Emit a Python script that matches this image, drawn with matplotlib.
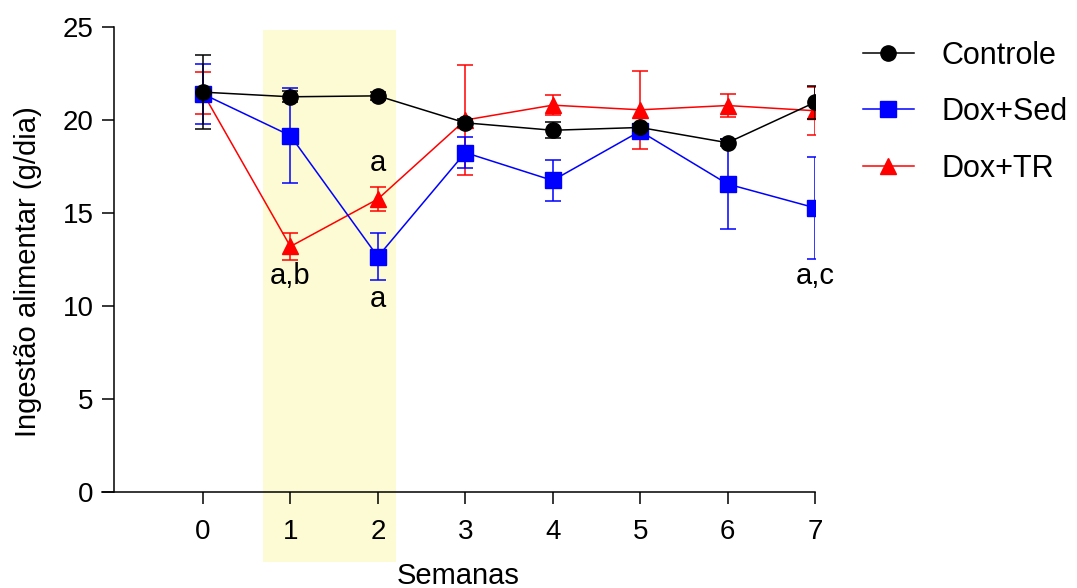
import matplotlib
matplotlib.use("Agg")
import matplotlib.pyplot as plt
from matplotlib.patches import Rectangle

plt.rcParams['font.family'] = ['Liberation Sans', 'DejaVu Sans']

# weeks and group means / errors (g/dia)
semanas = [0, 1, 2, 3, 4, 5, 6, 7]

controle = [21.5, 21.25, 21.3, 19.85, 19.45, 19.6, 18.78, 20.95]
controle_err = [2.0, 0.3, 0.2, 0.2, 0.43, 0.2, 0.2, 0.9]

dox_sed = [21.4, 19.16, 12.65, 18.25, 16.75, 19.4, 16.56, 15.28]
dox_sed_err = [1.6, 2.55, 1.27, 0.85, 1.08, 0.3, 2.44, 2.75]

dox_tr = [21.45, 13.2, 15.75, 20.0, 20.8, 20.55, 20.78, 20.5]
dox_tr_err = [1.15, 0.7, 0.65, 2.95, 0.55, 2.1, 0.6, 1.3]

# significance letters: (week, y, text)
letras = [(1, 11.6, 'a,b'), (2, 17.7, 'a'), (2, 10.4, 'a'), (7, 11.6, 'a,c')]

fig = plt.figure(figsize=(10.77, 5.88), dpi=100)
ax = fig.add_axes([0.0947, 0.1633, 0.662, 0.7907])

# highlighted period (weeks 1-2), runs down past the x axis
ax.add_patch(Rectangle((0.69, -3.76), 1.52, 28.6, facecolor='#fdfbd4',
                       edgecolor='none', zorder=0, clip_on=False))

series = [
    (dox_tr, dox_tr_err, '#ff0000', '^', 'Dox+TR', 3),
    (dox_sed, dox_sed_err, '#0000ff', 's', 'Dox+Sed', 4),
    (controle, controle_err, 'black', 'o', 'Controle', 5),
]
handles = {}
for vals, err, c, m, lab, z in series:
    ax.errorbar(semanas, vals, yerr=err, fmt='none', ecolor=c, elinewidth=1.1,
                capsize=6, capthick=1.1, zorder=z)
    ln, = ax.plot(semanas, vals, color=c, marker=m, markersize=11, lw=1.1,
                  label=lab, zorder=z)
    handles[lab] = ln

for wk, y, txt in letras:
    ax.text(wk, y, txt, ha='center', va='center', fontsize=21)

ax.set_xlim(-1.155, 7.0)
ax.set_ylim(0, 25)
ax.set_xticks(semanas)
ax.set_yticks([0, 5, 10, 15, 20, 25])
ax.spines['top'].set_visible(False)
ax.spines['right'].set_visible(False)
ax.spines['left'].set_position(('data', -1.02))
ax.spines['left'].set_linewidth(1.1)
ax.spines['bottom'].set_linewidth(1.1)
ax.tick_params(labelsize=20, length=8.5, width=1.1, direction='out', pad=6)
ax.tick_params(axis='x', pad=11)

ax.set_xlabel('Semanas', fontsize=21, labelpad=12)
ax.set_ylabel('Ingestão alimentar (g/dia)', fontsize=21)
ax.yaxis.set_label_coords(-0.084, 0.475)

ax.legend([handles['Controle'], handles['Dox+Sed'], handles['Dox+TR']],
          ['Controle', 'Dox+Sed', 'Dox+TR'],
          loc='upper left', bbox_to_anchor=(1.029, 1.03), frameon=False,
          fontsize=22, handlelength=1.65, labelspacing=0.87, handletextpad=0.9)

fig.savefig('out.png', dpi=100)
